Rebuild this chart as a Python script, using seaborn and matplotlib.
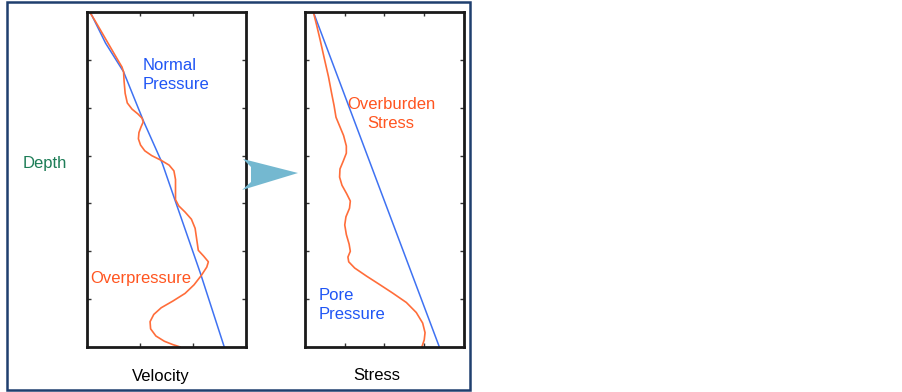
import matplotlib
matplotlib.use("Agg")
import matplotlib.pyplot as plt
from matplotlib.patches import Polygon, Rectangle
import seaborn as sns

# Left panel: velocity vs depth (x in tick units 0-3, depth 0-7)
normal_vel = [0.06, 0.35, 0.69, 1.07, 1.42, 1.66, 2.14, 2.59]
normal_depth = [0.0, 0.65, 1.25, 2.29, 3.16, 3.93, 5.46, 7.0]
over_vel = [0.05, 0.15, 0.25, 0.36, 0.47, 0.58, 0.66, 0.69, 0.70, 0.72, 0.76, 0.85, 0.96,
            1.04, 1.06, 1.02, 0.98, 0.97, 1.01, 1.09, 1.22, 1.40, 1.55, 1.64, 1.67, 1.67,
            1.67, 1.73, 1.85, 1.97, 2.04, 2.07, 2.10, 2.20, 2.29, 2.26, 2.16, 2.02, 1.85,
            1.62, 1.40, 1.26, 1.19, 1.20, 1.30, 1.46, 1.62, 1.76]
over_depth = [0.00, 0.18, 0.37, 0.58, 0.79, 1.00, 1.15, 1.25, 1.45, 1.70, 1.90, 2.03, 2.13,
              2.22, 2.30, 2.40, 2.52, 2.65, 2.78, 2.90, 3.00, 3.10, 3.20, 3.32, 3.50, 3.72,
              3.92, 4.05, 4.18, 4.33, 4.52, 4.75, 4.98, 5.10, 5.22, 5.33, 5.50, 5.70, 5.88,
              6.04, 6.18, 6.32, 6.47, 6.62, 6.77, 6.88, 6.95, 7.00]

# Right panel: stress vs depth (x in tick units 0-4, depth 0-7)
overburden_stress = [0.21, 3.38]
overburden_depth = [0.0, 7.0]
pore_stress = [0.21, 0.30, 0.38, 0.48, 0.59, 0.67, 0.73, 0.78, 0.88, 0.97, 1.04, 1.04, 0.96,
               0.88, 0.87, 0.93, 1.05, 1.14, 1.12, 1.03, 1.00, 1.04, 1.11, 1.14, 1.08, 1.10,
               1.25, 1.55, 1.85, 2.20, 2.55, 2.80, 2.96, 3.02, 3.00, 2.94]
pore_depth = [0.00, 0.30, 0.58, 0.95, 1.35, 1.70, 1.95, 2.20, 2.40, 2.58, 2.80, 2.95, 3.12,
              3.28, 3.45, 3.62, 3.80, 3.95, 4.10, 4.28, 4.45, 4.65, 4.85, 5.00, 5.12, 5.22,
              5.35, 5.52, 5.68, 5.87, 6.07, 6.28, 6.50, 6.70, 6.85, 7.00]

blue_line = "#3f72f2"
orange_line = "#ff6d3a"
blue_text = "#1f55f5"
orange_text = "#ff5520"
green_text = "#1d7d57"

sns.set_style("white")
plt.rcParams['font.family'] = ['Liberation Sans', 'DejaVu Sans']

W, H = 903, 392
fig = plt.figure(figsize=(W / 100, H / 100), dpi=100)


def px_axes(x0, y0, x1, y1):
    return fig.add_axes([x0 / W, 1 - y1 / H, (x1 - x0) / W, (y1 - y0) / H])


def style_axes(ax, xmax, ymax):
    ax.set_xlim(0, xmax)
    ax.set_ylim(ymax, 0)
    ax.set_xticks(range(1, xmax))
    ax.set_yticks(range(1, ymax))
    ax.set_xticklabels([])
    ax.set_yticklabels([])
    ax.set_xlabel("")
    ax.set_ylabel("")
    ax.tick_params(direction="in", length=3, width=1, color="#333333",
                   top=True, right=True, bottom=True, left=True)
    for s in ax.spines.values():
        s.set_visible(True)
        s.set_linewidth(2)
        s.set_color("#1a1a1a")


ax1 = px_axes(87, 12, 246, 347)
sns.lineplot(x=normal_vel, y=normal_depth, sort=False, estimator=None,
             color=blue_line, lw=1.1, ax=ax1)
sns.lineplot(x=over_vel, y=over_depth, sort=False, estimator=None,
             color=orange_line, lw=1.2, ax=ax1)
style_axes(ax1, 3, 7)

ax2 = px_axes(305, 12, 464, 347)
sns.lineplot(x=overburden_stress, y=overburden_depth, sort=False, estimator=None,
             color=blue_line, lw=1.1, ax=ax2)
sns.lineplot(x=pore_stress, y=pore_depth, sort=False, estimator=None,
             color=orange_line, lw=1.2, ax=ax2)
style_axes(ax2, 4, 7)


def ftext(x, y, s, color, ha="left", **kw):
    fig.text(x / W, 1 - y / H, s, color=color, ha=ha, va="center",
             fontsize=12, linespacing=1.4, **kw)


ftext(143, 75, "Normal\nPressure", blue_text)
ftext(90, 278, "Overpressure", orange_text)
ftext(23, 163, "Depth", green_text)
ftext(161, 376, "Velocity", "black", ha="center")
ftext(391, 114, "Overburden\nStress", orange_text, ha="center")
ftext(319, 305, "Pore\nPressure", blue_text)
ftext(377, 376, "Stress", "black", ha="center")

# connecting arrow
arrow = [(243, 159), (298, 173), (242, 190), (251, 182), (251, 167)]
fig.patches.append(Polygon([(x / W, 1 - y / H) for x, y in arrow], closed=True,
                           transform=fig.transFigure, facecolor="#74b8d0",
                           edgecolor="none", zorder=10))

# outer frame
fig.patches.append(Rectangle((7 / W, 1 - 390 / H), (470 - 7) / W, (390 - 1.5) / H,
                             transform=fig.transFigure, fill=False,
                             edgecolor="#1f3f6e", linewidth=1.8, zorder=10))

fig.savefig("out.png", dpi=100)
